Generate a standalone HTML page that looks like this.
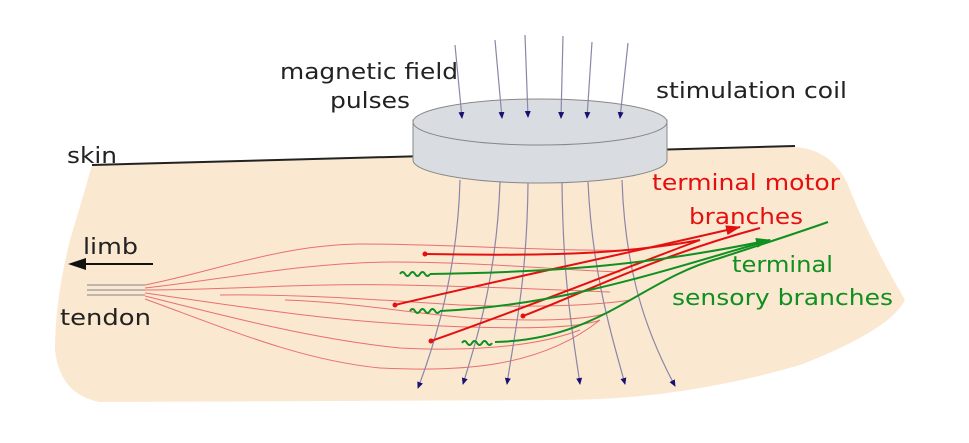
<!DOCTYPE html>
<html><head><meta charset="utf-8"><style>
html,body{margin:0;padding:0;background:#fff;}
svg{display:block;font-family:"DejaVu Sans","Liberation Sans",sans-serif;}
</style></head><body>
<svg width="969" height="443" viewBox="0 0 969 443" xmlns="http://www.w3.org/2000/svg">
<defs>
<marker id="ab" markerWidth="8" markerHeight="8" refX="6" refY="4" orient="auto" markerUnits="userSpaceOnUse"><path d="M0,1 L7,4 L0,7 Z" fill="#1a1070"/></marker>
<marker id="ar" markerWidth="16" markerHeight="10" refX="14" refY="5" orient="auto" markerUnits="userSpaceOnUse"><path d="M0,0 L15,5 L0,10 Z" fill="#e41010"/></marker>
<marker id="ag" markerWidth="16" markerHeight="10" refX="14" refY="5" orient="auto" markerUnits="userSpaceOnUse"><path d="M0,0 L15,5 L0,10 Z" fill="#109020"/></marker>
</defs>
<path d="M92,165 L795,147 Q835,150 850,190 Q870,240 905,300 Q890,330 800,365 Q680,400 560,400 L100,402 Q60,395 55,350 Q55,300 70,240 Q85,190 92,165 Z" fill="#fbe8d0"/>
<line x1="92" y1="165" x2="795" y2="146" stroke="#222" stroke-width="2"/>
<g stroke="#999" stroke-width="1.3"><line x1="87" y1="285" x2="145" y2="285"/><line x1="87" y1="290" x2="145" y2="290"/><line x1="87" y1="295" x2="145" y2="295"/></g>
<g fill="none" stroke="#e87070" stroke-width="1">
<path d="M145,285 C220,270 280,245 360,244 C450,244 560,252 640,250"/>
<path d="M145,288 C220,280 300,263 390,262 C480,262 560,270 620,272"/>
<path d="M145,290 C230,290 300,283 400,285 C500,287 560,290 610,292"/>
<path d="M220,295 C300,294 380,300 460,305 C540,308 600,305 630,300"/>
<path d="M285,300 C350,302 400,312 470,318 C540,322 590,320 610,312"/>
<path d="M145,293 C230,305 320,320 420,325 C520,330 580,328 600,320"/>
<path d="M145,296 C240,320 320,340 400,348 C480,352 540,345 580,330"/>
<path d="M145,299 C230,330 300,360 380,368 C460,372 540,368 600,320"/>
</g>
<g fill="none" stroke="#8a86a8" stroke-width="1.2" marker-end="url(#ab)">
<path d="M460,180 C458,260 440,330 418,388"/>
<path d="M500,182 C497,270 480,330 463,384"/>
<path d="M528,183 C527,280 515,330 507,384"/>
<path d="M562,183 C563,280 572,330 580,384"/>
<path d="M588,182 C592,270 610,330 625,384"/>
<path d="M622,180 C625,270 645,330 675,386"/>
</g>
<path d="M413,120 L413,160 A127,23 0 0 0 667,160 L667,120 Z" fill="#d9dde1" stroke="#888" stroke-width="1"/>
<ellipse cx="540" cy="122" rx="127" ry="23" fill="#d9dde1" stroke="#888" stroke-width="1"/>
<g fill="none" stroke="#8a86a8" stroke-width="1.2" marker-end="url(#ab)">
<line x1="455" y1="45" x2="462" y2="118"/>
<line x1="495" y1="40" x2="502" y2="118"/>
<line x1="525" y1="35" x2="528" y2="117"/>
<line x1="563" y1="36" x2="561" y2="118"/>
<line x1="592" y1="42" x2="587" y2="118"/>
<line x1="628" y1="43" x2="620" y2="118"/>
</g>
<g fill="none" stroke="#e41010" stroke-width="2">
<path d="M425,254 C540,256 620,255 700,240"/>
<path d="M395,305 C500,280 620,255 740,227" marker-end="url(#ar)"/>
<path d="M431,341 C520,310 620,270 700,240"/>
<path d="M523,316 C590,290 660,255 760,228"/>
</g>
<g fill="#e41010"><circle cx="425" cy="254" r="2.5"/><circle cx="395" cy="305" r="2.5"/><circle cx="431" cy="341" r="2.5"/><circle cx="523" cy="316" r="2.5"/></g>
<g fill="none" stroke="#109020" stroke-width="2">
<path d="M400,274 q2.5,-4 5,0 t5,0 t5,0 t5,0 t5,0 t5,0"/>
<path d="M430,274 C560,272 650,265 770,240" marker-end="url(#ag)"/>
<path d="M410,311 q2.5,-4 5,0 t5,0 t5,0 t5,0 t5,0 t5,0"/>
<path d="M440,311 C560,305 650,275 770,240"/>
<path d="M462,343 q2.5,-4 5,0 t5,0 t5,0 t5,0 t5,0 t5,0"/>
<path d="M495,342 C600,340 640,280 720,258 C760,245 800,232 828,222"/>
</g>
<line x1="153" y1="264" x2="78" y2="264" stroke="#111" stroke-width="2"/>
<path d="M68,264 L86,258 L86,270 Z" fill="#111"/>
<g font-size="22" fill="#222">
<text x="280" y="79" textLength="178" lengthAdjust="spacingAndGlyphs">magnetic field</text>
<text x="330" y="108" textLength="80" lengthAdjust="spacingAndGlyphs">pulses</text>
<text x="656" y="98" textLength="191" lengthAdjust="spacingAndGlyphs">stimulation coil</text>
<text x="67" y="163" textLength="50" lengthAdjust="spacingAndGlyphs">skin</text>
<text x="83" y="254" textLength="55" lengthAdjust="spacingAndGlyphs">limb</text>
<text x="60" y="325" textLength="91" lengthAdjust="spacingAndGlyphs">tendon</text>
</g>
<g font-size="22" fill="#e41010">
<text x="652" y="190" textLength="188" lengthAdjust="spacingAndGlyphs">terminal motor</text>
<text x="689" y="224" textLength="114" lengthAdjust="spacingAndGlyphs">branches</text>
</g>
<g font-size="22" fill="#109020">
<text x="732" y="272" textLength="101" lengthAdjust="spacingAndGlyphs">terminal</text>
<text x="672" y="305" textLength="221" lengthAdjust="spacingAndGlyphs">sensory branches</text>
</g>
</svg>
</body></html>
